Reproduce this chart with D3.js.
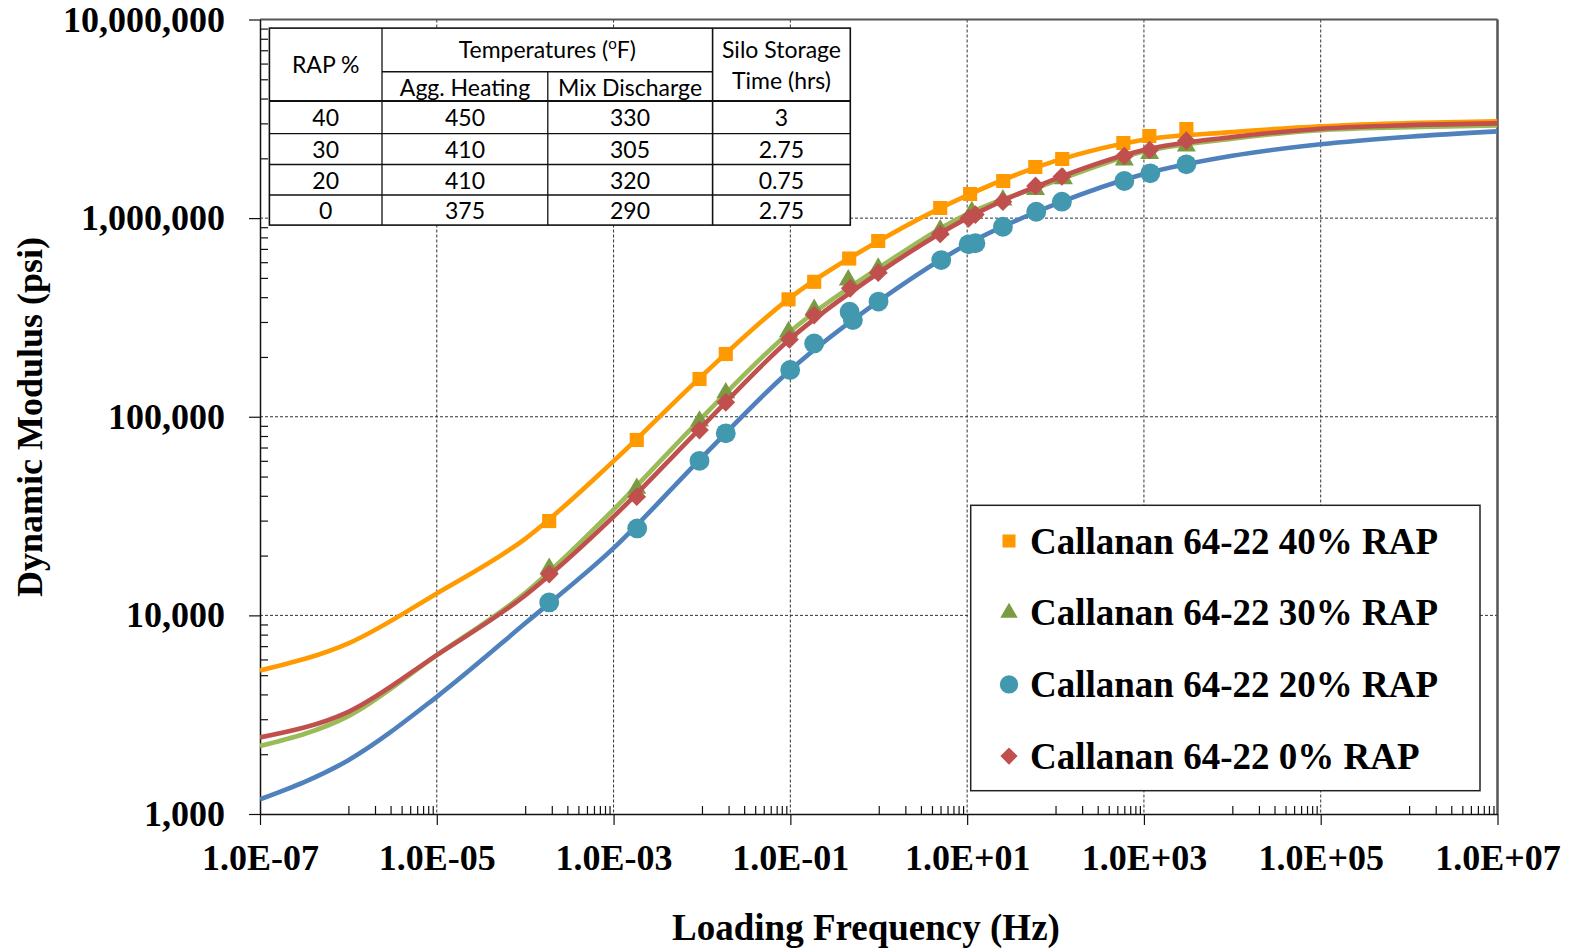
<!DOCTYPE html>
<html><head><meta charset="utf-8">
<script src="https://cdn.jsdelivr.net/npm/d3@7"></script>
<style>html,body{margin:0;padding:0;background:#fff;} svg{display:block;}</style>
</head><body>
<svg id="chart" width="1576" height="948"></svg>
<script>
// ---------- DATA ----------
const seriesNames = ["Callanan 64-22 40% RAP","Callanan 64-22 30% RAP","Callanan 64-22 20% RAP","Callanan 64-22 0% RAP"];

// fitted master curves (read at each decade)
const curveFreq = [1e-7,1e-6,1e-5,1e-4,1e-3,1e-2,1e-1,1e0,1e1,1e2,1e3,1e4,1e5,1e6,1e7];
const fit40 = [5280,7230,12900,24300,59800,160700,398000,767000,1303000,1941000,2483000,2710000,2897000,3013000,3076000];
const fit30 = [2200,3110,6310,12950,34100,99100,269000,562000,1047000,1535000,2163000,2512000,2773000,2871000,2931000];
const fit20 = [1186,1866,3890,9120,21800,62500,172000,382000,738000,1175000,1667000,2061000,2355000,2570000,2735000];
const fit0  = [2430,3270,6310,12600,31400,89300,247000,531000,1000000,1578000,2203000,2559000,2818000,2938000,3000000];

// measured points
const freq40 = [1.87e-4,1.83e-3,9.38e-3,0.0186,0.0953,0.186,0.463,0.986,4.96,10.8,25.6,59.0,119,585,1151,3020];
const e40    = [29850,76400,154900,207000,390000,478000,626000,767000,1124000,1322000,1538000,1809000,1985000,2389000,2590000,2810000];
const freq30 = [1.87e-4,1.83e-3,9.38e-3,0.0186,0.0953,0.186,0.452,0.986,4.96,11.3,25.4,59.4,123,600,1161,3020];
const e30    = [17250,43600,95100,132000,268000,347000,488000,559000,871000,1077000,1234000,1393000,1580000,1963000,2112000,2306000];
const freq20 = [1.87e-4,1.85e-3,9.38e-3,0.0186,0.0995,0.186,0.468,0.510,0.994,5.09,10.4,12.4,25.4,60.5,118,600,1180,3020];
const e20    = [11620,27400,60000,82500,171900,234000,338000,307000,380000,615000,738000,747000,905000,1077000,1210000,1538000,1681000,1866000];
const freq0  = [1.87e-4,1.83e-3,9.38e-3,0.0186,0.0977,0.186,0.475,0.986,4.96,10.4,12.4,25.4,59.4,118,600,1161,3020];
const e0     = [16140,39550,85700,118200,245000,325000,443000,531000,832000,998000,1042000,1210000,1452000,1620000,2055000,2203000,2453000];

// axis ticks
const xMajorTicks = [1e-7,1e-5,1e-3,1e-1,1e1,1e3,1e5,1e7];
const yMajorTicks = [1e3,1e4,1e5,1e6,1e7];

// table
const tableHeadTop = ["RAP %","Temperatures (","Silo Storage"];
const tableHeadSub = ["Agg. Heating","Mix Discharge","Time (hrs)"];
const tableRows = [["40","450","330","3"],["30","410","305","2.75"],["20","410","320","0.75"],["0","375","290","2.75"]];

// ---------- CHART ----------
const W=1576,H=948;
const L=260,R=1497.5,T=19.5,B=814;
const svg=d3.select("#chart");
svg.append("rect").attr("width",W).attr("height",H).attr("fill","#fff");

const x=d3.scaleLog().domain([1e-7,1e7]).range([L,R]);
const y=d3.scaleLog().domain([1e3,1e7]).range([B,T]);

const serif='"Liberation Serif","Times New Roman",serif';

// gridlines
svg.append("g").selectAll("line").data(xMajorTicks.slice(1,-1)).join("line")
  .attr("x1",d=>x(d)).attr("x2",d=>x(d)).attr("y1",T).attr("y2",B)
  .attr("stroke","#333").attr("stroke-width",1).attr("stroke-dasharray","3,2");
svg.append("g").selectAll("line").data(yMajorTicks.slice(1,-1)).join("line")
  .attr("y1",d=>y(d)).attr("y2",d=>y(d)).attr("x1",L).attr("x2",R)
  .attr("stroke","#333").attr("stroke-width",1).attr("stroke-dasharray","3,2");

// top / right borders
svg.append("line").attr("x1",L).attr("x2",R).attr("y1",T).attr("y2",T).attr("stroke","#555").attr("stroke-width",2);
svg.append("line").attr("x1",R).attr("x2",R).attr("y1",T).attr("y2",B).attr("stroke","#555").attr("stroke-width",2.5);

// minor tick values
const xMinor=[];
for(let i=0;i<xMajorTicks.length-1;i++){for(let k=1;k<=9;k++) xMinor.push(k*xMajorTicks[i]*10);}
const yMinor=[];
for(let i=0;i<yMajorTicks.length-1;i++){for(let k=2;k<=9;k++) yMinor.push(k*yMajorTicks[i]);}

const xFmt=d=>{const e=Math.round(Math.log10(d));return "1.0E"+(e<0?"-":"+")+String(Math.abs(e)).padStart(2,"0");};

const gxMinor=svg.append("g").attr("transform",`translate(0,${B})`)
  .call(d3.axisBottom(x).tickValues(xMinor).tickSize(-8).tickFormat(""));
gxMinor.select(".domain").remove();
const gx=svg.append("g").attr("transform",`translate(0,${B})`)
  .call(d3.axisBottom(x).tickValues(xMajorTicks).tickFormat(xFmt).tickSize(11).tickSizeOuter(0).tickPadding(19));
gx.selectAll("text").attr("font-family",serif).attr("font-weight","bold").attr("font-size",36).attr("fill","#000");

const gyMinor=svg.append("g").attr("transform",`translate(${L},0)`)
  .call(d3.axisLeft(y).tickValues(yMinor).tickSize(-8).tickFormat(""));
gyMinor.select(".domain").remove();
const gy=svg.append("g").attr("transform",`translate(${L},0)`)
  .call(d3.axisLeft(y).tickValues(yMajorTicks).tickFormat(d3.format(",")).tickSize(11).tickSizeOuter(0).tickPadding(24));
gy.selectAll("text").attr("font-family",serif).attr("font-weight","bold").attr("font-size",36).attr("fill","#000");
svg.selectAll(".tick line").attr("stroke","#111").attr("stroke-width",1.2);
svg.selectAll(".domain").attr("stroke","#111").attr("stroke-width",1.5);

// axis titles
svg.append("text").attr("x",866).attr("y",940).attr("text-anchor","middle")
  .attr("font-family",serif).attr("font-weight","bold").attr("font-size",37).text("Loading Frequency (Hz)");
svg.append("text").attr("transform","translate(42,417) rotate(-90)").attr("text-anchor","middle")
  .attr("font-family",serif).attr("font-weight","bold").attr("font-size",36).text("Dynamic Modulus (psi)");

// clip
svg.append("clipPath").attr("id","plotclip").append("rect").attr("x",L).attr("y",T).attr("width",R-L).attr("height",B-T);

const series=[
  {name:seriesNames[0],fit:fit40,f:freq40,e:e40,line:"#FF9A00",mark:"#FF9900",sym:"square"},
  {name:seriesNames[1],fit:fit30,f:freq30,e:e30,line:"#9BBB59",mark:"#7B9B42",sym:"triangle"},
  {name:seriesNames[2],fit:fit20,f:freq20,e:e20,line:"#4F81BD",mark:"#4198AF",sym:"circle"},
  {name:seriesNames[3],fit:fit0, f:freq0, e:e0, line:"#C0504D",mark:"#C0504D",sym:"diamond"}
];
const symPath=(s,scale=1)=>{
  if(s==="square") return d3.symbol(d3.symbolSquare,200*scale)();
  if(s==="triangle") return d3.symbol(d3.symbolTriangle,155*scale)();
  if(s==="circle") return d3.symbol(d3.symbolCircle,310*scale)();
  return d3.symbol(d3.symbolSquare,175*scale)();
};
const line=d3.line().x(d=>x(d[0])).y(d=>y(d[1])).curve(d3.curveMonotoneX);
const drawOrder=[0,1,2,3];
drawOrder.forEach(i=>{
  const s=series[i];
  const g=svg.append("g").attr("clip-path","url(#plotclip)");
  g.append("path").datum(curveFreq.map((f,j)=>[f,s.fit[j]])).attr("d",line)
    .attr("fill","none").attr("stroke",s.line).attr("stroke-width",4.6).attr("stroke-linejoin","round");
  g.selectAll("path.m").data(s.f.map((f,j)=>[f,s.e[j]])).join("path").attr("class","m")
    .attr("d",symPath(s.sym))
    .attr("transform",d=>`translate(${x(d[0])},${y(d[1])})`+(s.sym==="diamond"?" rotate(45)":""))
    .attr("fill",s.mark);
});

// legend
const lg=svg.append("g");
lg.append("rect").attr("x",970.7).attr("y",505.3).attr("width",1480-970.7).attr("height",790.7-505.3)
  .attr("fill","#fff").attr("stroke","#222").attr("stroke-width",1.5);
series.forEach((s,i)=>{
  const cy=541+i*71.7;
  lg.append("path").attr("d",symPath(s.sym,0.85)).attr("fill",s.mark)
    .attr("transform",`translate(1009,${cy})`+(s.sym==="diamond"?" rotate(45)":""));
  lg.append("text").attr("x",1030).attr("y",cy+12.5).attr("font-family",serif).attr("font-weight","bold")
    .attr("font-size",37).attr("fill","#000").text(s.name);
});

// table
const tg=svg.append("g");
const cx=[269.4,382,547.8,712.6,850.3];
const ry=[28.1,71.7,101.1,133.6,164.5,195,225.1];
tg.append("rect").attr("x",cx[0]).attr("y",ry[0]).attr("width",cx[4]-cx[0]).attr("height",ry[6]-ry[0])
  .attr("fill","#fff").attr("stroke","#111").attr("stroke-width",1.6);
const seg=(x1,y1,x2,y2,w)=>tg.append("line").attr("x1",x1).attr("y1",y1).attr("x2",x2).attr("y2",y2).attr("stroke","#111").attr("stroke-width",w||1.3);
seg(cx[1],ry[0],cx[1],ry[6]);
seg(cx[2],ry[1],cx[2],ry[6]);
seg(cx[3],ry[0],cx[3],ry[6],1.6);
seg(cx[1],ry[1],cx[3],ry[1],1.6);
seg(cx[0],ry[2],cx[4],ry[2],2);
[3,4,5].forEach(k=>seg(cx[0],ry[k],cx[4],ry[k]));
const tf='Lato,"Noto Sans",sans-serif';
const tText=(xx,yy,t)=>tg.append("text").attr("x",xx).attr("y",yy).attr("text-anchor","middle")
  .attr("font-family",tf).attr("font-size",23).attr("fill","#000").text(t);
const colC=[325.7,465,630,781.5];
tText(colC[0],64.5+8,tableHeadTop[0]);
const tt=tText((cx[1]+cx[3])/2,50+8,tableHeadTop[1]);
tt.append("tspan").attr("font-size",15).attr("dy",-9).text("o");
tt.append("tspan").attr("dy",9).text("F)");
tText(colC[3],50+8,tableHeadTop[2]);
tText(colC[1],88+8,tableHeadSub[0]);
tText(colC[2],88+8,tableHeadSub[1]);
tText(colC[3],80.5+8,tableHeadSub[2]);
tableRows.forEach((r,i)=>{
  const yy=(ry[i+2]+ry[i+3])/2+1+8;
  r.forEach((v,j)=>tText(colC[j],yy,v));
});
</script>
</body></html>
